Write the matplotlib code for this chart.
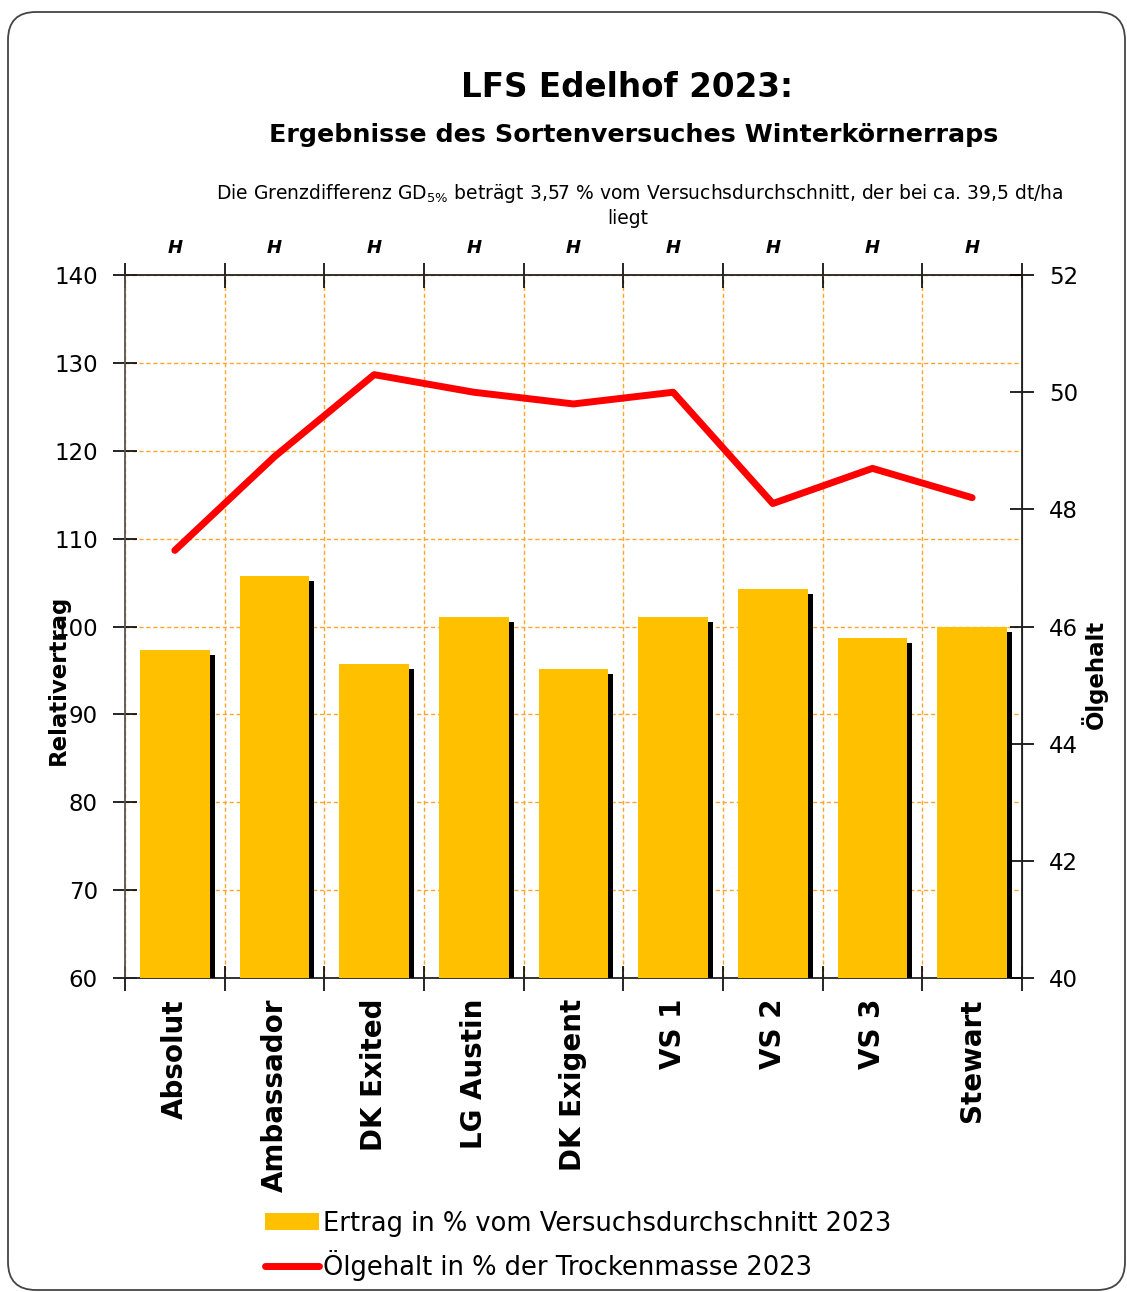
import numpy as np
import matplotlib.pyplot as plt
import matplotlib.patheffects as pe
from matplotlib.patches import FancyBboxPatch
from matplotlib.transforms import IdentityTransform
from matplotlib.lines import Line2D
from matplotlib.patches import Patch

plt.rcParams['font.family'] = ['DejaVu Sans']

sorten = ["Absolut", "Ambassador", "DK Exited", "LG Austin", "DK Exigent",
          "VS 1", "VS 2", "VS 3", "Stewart"]
ertrag = [97.3, 105.7, 95.7, 101.1, 95.2, 101.1, 104.3, 98.7, 99.9]
oelgehalt = [47.3, 48.9, 50.3, 50.0, 49.8, 50.0, 48.1, 48.7, 48.2]
marker = ["H"] * 9

yellow = "#FFC000"
red = "#FF0000"
grid_col = "#FFA530"

fig = plt.figure(figsize=(11.27, 12.92), dpi=100)
ax = fig.add_axes([0.1109, 0.2430, 0.7959, 0.5441])
ax2 = ax.twinx()

x = np.arange(len(sorten))

bars = ax.bar(x, ertrag, width=0.70, color=yellow, zorder=3)
for b in bars:
    b.set_path_effects([pe.SimplePatchShadow(offset=(3.6, -3.6), shadow_rgbFace="k", alpha=1.0),
                        pe.Normal()])

ax.set_xlim(-0.5, len(sorten) - 0.5)
ax.set_ylim(60, 140)
ax.set_yticks(np.arange(60, 141, 10))
ax.set_xticks(x)
ax.set_xticklabels(sorten, rotation=90, fontsize=20, fontweight="bold", va="top")
ax.set_xticks(np.arange(-0.5, len(sorten), 1), minor=True)

ax.tick_params(axis="x", which="major", length=0, pad=15)
ax.tick_params(axis="x", which="minor", direction="inout", length=18, width=1.2,
               top=True, bottom=True)
ax.tick_params(axis="y", direction="inout", length=17, width=1.2, labelsize=16.5, pad=11)

# Gitterlinien
ax.yaxis.grid(True, color=grid_col, linestyle=(0, (3, 2)), linewidth=1.0, zorder=0)
ax.xaxis.grid(True, which="minor", color=grid_col, linestyle=(0, (3, 2)), linewidth=1.0, zorder=0)
ax.set_axisbelow(True)

for s in ["top", "bottom"]:
    ax.spines[s].set_color("#222222")
    ax.spines[s].set_linewidth(1.3)
ax.spines["left"].set_color("#555555")
ax.spines["left"].set_linewidth(1.3)

ax2.plot(x, oelgehalt, color=red, linewidth=5, solid_capstyle="round",
         solid_joinstyle="round", zorder=5)
ax2.set_ylim(40, 52)
ax2.set_yticks(np.arange(40, 53, 2))
ax2.tick_params(axis="y", direction="inout", length=17, width=1.2, labelsize=16.5, pad=11)
ax2.spines["right"].set_color("#222222")
ax2.spines["right"].set_linewidth(1.3)
for s in ["top", "bottom", "left"]:
    ax2.spines[s].set_visible(False)

ax.set_ylabel("Relativertrag", fontsize=16.5, fontweight="bold")
ax2.set_ylabel("Ölgehalt", fontsize=16.5, fontweight="bold")
ax.yaxis.set_label_coords(-0.061, 0.424)
ax2.yaxis.set_label_coords(1.066, 0.432)

for xi, m in zip(x, marker):
    ax.text(xi, 1.038, m, transform=ax.get_xaxis_transform(), ha="center", va="center",
            fontsize=13, fontweight="bold", fontstyle="italic")

# Titel
fig.text(0.556, 0.932, "LFS Edelhof 2023:", ha="center", va="center",
         fontsize=23.5, fontweight="bold")
fig.text(0.562, 0.8955, "Ergebnisse des Sortenversuches Winterkörnerraps", ha="center",
         va="center", fontsize=18.3, fontweight="bold")
fig.text(0.568, 0.8506,
         r"Die Grenzdifferenz GD$_{5\%}$ beträgt 3,57 % vom Versuchsdurchschnitt, der bei ca. 39,5 dt/ha",
         ha="center", va="center", fontsize=13.5)
fig.text(0.557, 0.8305, "liegt", ha="center", va="center", fontsize=13.5)

# Legende
handles = [Patch(facecolor=yellow, edgecolor="none"),
           Line2D([0], [0], color=red, linewidth=5, solid_capstyle="round")]
labels = ["Ertrag in % vom Versuchsdurchschnitt 2023",
          "Ölgehalt in % der Trockenmasse 2023"]
fig.legend(handles, labels, loc="upper left", bbox_to_anchor=(0.235, 0.063),
           frameon=False, fontsize=18.5, handlelength=2.1, handleheight=0.6,
           handletextpad=0.15, labelspacing=0.52, borderpad=0, borderaxespad=0)

# Rahmen
frame = FancyBboxPatch((8, 2), 1117, 1278, boxstyle="round,pad=0,rounding_size=28",
                       transform=IdentityTransform(), fill=False, edgecolor="#444444",
                       linewidth=1.3)
fig.add_artist(frame)

fig.savefig("out.png", dpi=100)
